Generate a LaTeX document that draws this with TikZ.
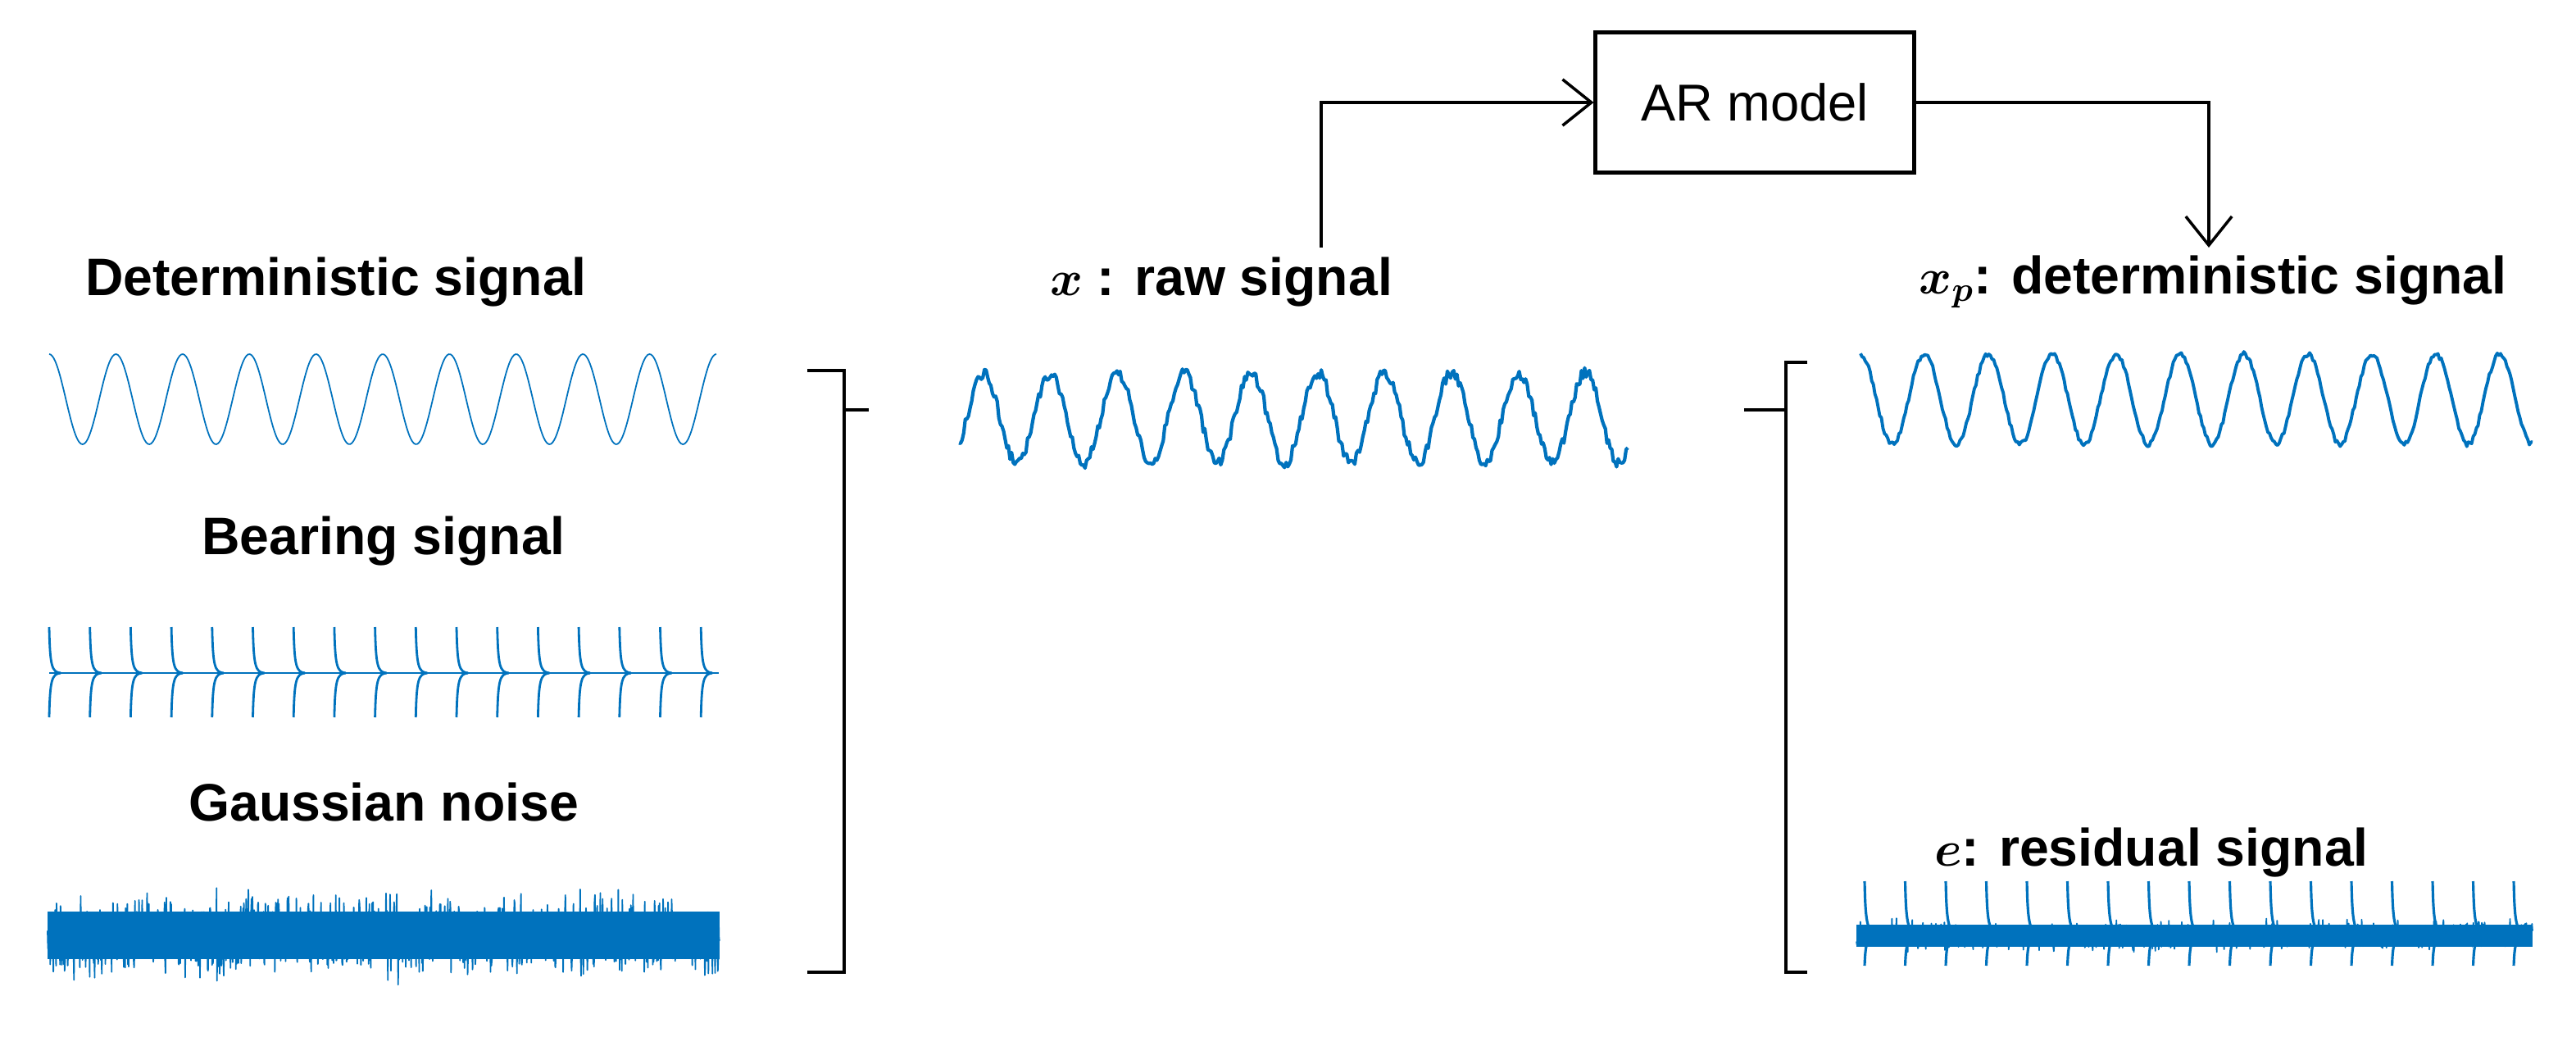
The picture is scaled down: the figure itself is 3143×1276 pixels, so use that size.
\documentclass[tikz,border=0pt]{standalone}
\usepackage{bm}
\usepackage{fontspec}
\setmainfont{Liberation Sans}
\usetikzlibrary{arrows.meta}
\definecolor{sigblue}{RGB}{0,114,189}
\begin{document}
\begin{tikzpicture}[x=0.01cm,y=-0.01cm,
  lbl/.style={font=\fontsize{18.3}{20}\selectfont\bfseries,inner sep=0pt},
  sig/.style={draw=sigblue,line width=0.9pt,line join=round},
  thin sig/.style={draw=sigblue,line width=0.5pt},
  brk/.style={draw=black,line width=1.1pt},
  conn/.style={draw=black,line width=1pt,-{Straight Barb[length=10pt,width=16pt]}}]
\useasboundingbox (0,0) rectangle (3143,1276);
\pgfmathsetseed{7}
% labels
\node[lbl] (ld) at (410,344) {Deterministic signal};
\node[lbl] (lb) at (468,660) {Bearing signal};
\node[lbl] (lg) at (468,978) {Gaussian noise};
\node[lbl] (lx) at (1490,344) {$\bm{x}$ : raw signal};
\node[lbl] (lp) at (2700,344) {$\bm{x_p}$: deterministic signal};
\node[lbl] (le) at (2625,1040) {$\bm{e}$: residual signal};
% AR model
\node[draw,line width=1.4pt,inner sep=0pt,minimum width=3.88cm,minimum height=1.7cm,font=\fontsize{18}{20}\selectfont] (arm) at (2141,125) {AR model};
\coordinate (xin) at (1612,302);
\coordinate (pout) at (2695,302);
\draw[conn] (xin) |- (arm.west);
\draw[conn] (arm.east) -| (pout);
% deterministic signal
\draw[thin sig] plot[domain=60:874,samples=400,smooth] (\x,{487-55*cos(360/81.4*(\x-60))});
% bearing signal
\draw[sig,line width=0.7pt] (60,821) -- (877,821);
\foreach \i in {0,...,16}{
  \pgfmathsetmacro{\xx}{60+49.7*\i}
  \draw[sig,line width=0.8pt] (\xx,765) .. controls (\xx+1,812) and (\xx+3,820) .. (\xx+14,821);
  \draw[sig,line width=0.8pt] (\xx,875) .. controls (\xx+1,830) and (\xx+3,822) .. (\xx+14,821);
}
% gaussian noise
\fill[sigblue] (58,1112) rectangle (878,1170);
\draw[sig,line width=0.5pt] plot[domain=58:878,samples=1500] (\x,{1141+22*(rand+rand+rand)});
% left bracket
\draw[brk] (985,452) -- (1030,452) -- (1030,1186) -- (985,1186);
\draw[brk] (1030,500) -- (1060,500);
% raw signal
\draw[sig,line width=1.2pt] plot[domain=1170:1986,samples=420] (\x,{510-55*cos(360/81.6*(\x-1200))+7*rand});
% right bracket
\draw[brk] (2205,442) -- (2179,442) -- (2179,1186) -- (2205,1186);
\draw[brk] (2128,500) -- (2179,500);
% xp signal
\draw[sig,line width=1.1pt] plot[domain=2270:3090,samples=420] (\x,{487-55*cos(360/78*(\x-2270))+3*rand});
% residual
\fill[sigblue] (2265,1128) rectangle (3090,1155);
\draw[sig,line width=0.5pt] plot[domain=2265:3090,samples=1200] (\x,{1141+8*(rand+rand+rand)});
\foreach \i in {0,...,16}{
  \pgfmathsetmacro{\xx}{2275+49.5*\i}
  \draw[sig,line width=0.9pt] (\xx,1075) .. controls (\xx+1,1125) and (\xx+3,1135) .. (\xx+13,1138);
  \draw[sig,line width=0.9pt] (\xx,1178) .. controls (\xx+1,1150) and (\xx+3,1145) .. (\xx+13,1142);
}
\end{tikzpicture}
\end{document}
